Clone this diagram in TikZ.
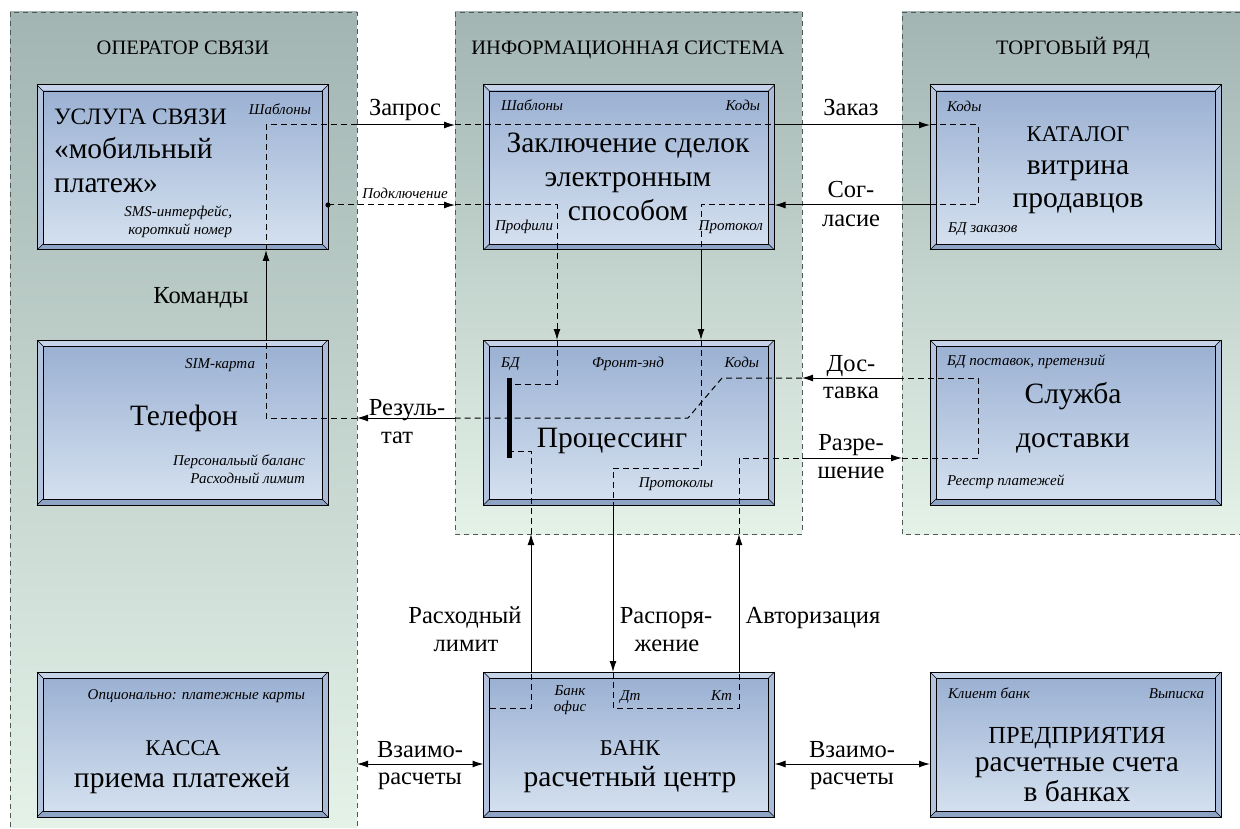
\documentclass[tikz,border=0pt]{standalone}
\usepackage{fontspec}
\setmainfont{Liberation Serif}
\usetikzlibrary{arrows.meta}
\definecolor{panTop}{HTML}{A2B5B3}
\definecolor{panBot}{HTML}{E4F2E8}
\definecolor{boxTop}{HTML}{9BB1D3}
\definecolor{boxBot}{HTML}{D4E0EF}
\definecolor{bevT}{HTML}{C6D3E8}
\definecolor{bevL}{HTML}{B4C4DE}
\definecolor{bevB}{HTML}{8EA4C7}
\definecolor{bevR}{HTML}{AABCD9}
\definecolor{panEdge}{HTML}{505858}
\newcommand\fbig{\fontsize{29.5}{34}\selectfont}
\newcommand\fcap{\fontsize{22.5}{34}\selectfont}
\newcommand\flab{\fontsize{24.5}{29}\selectfont}
\newcommand\ftit{\fontsize{20.5}{24}\selectfont}
\newcommand\fsm{\fontsize{15}{18}\selectfont\itshape}
\newcommand\bevelbox[1]{%
 \path[fill=bevT] (#1.north west) -- (#1.north east) -- ([xshift=-6pt,yshift=-6pt]#1.north east) -- ([xshift=6pt,yshift=-6pt]#1.north west) -- cycle;
 \path[fill=bevL] (#1.north west) -- ([xshift=6pt,yshift=-6pt]#1.north west) -- ([xshift=6pt,yshift=6pt]#1.south west) -- (#1.south west) -- cycle;
 \path[fill=bevB] (#1.south west) -- ([xshift=6pt,yshift=6pt]#1.south west) -- ([xshift=-6pt,yshift=6pt]#1.south east) -- (#1.south east) -- cycle;
 \path[fill=bevR] (#1.south east) -- ([xshift=-6pt,yshift=6pt]#1.south east) -- ([xshift=-6pt,yshift=-6pt]#1.north east) -- (#1.north east) -- cycle;
 \shade[top color=boxTop,bottom color=boxBot] ([xshift=6pt,yshift=6pt]#1.south west) rectangle ([xshift=-6pt,yshift=-6pt]#1.north east);
 \draw[line width=0.7pt] ([xshift=6pt,yshift=6pt]#1.south west) rectangle ([xshift=-6pt,yshift=-6pt]#1.north east);
 \draw[line width=0.5pt] (#1.north west) -- ++(6pt,-6pt) (#1.north east) -- ++(-6pt,-6pt) (#1.south west) -- ++(6pt,6pt) (#1.south east) -- ++(-6pt,6pt);
 \draw[line width=1pt] (#1.south west) rectangle (#1.north east);
}
\tikzset{
  bbox/.style={rectangle, inner sep=0pt, outer sep=0pt, minimum width=291pt, minimum height=165pt},
  lowbox/.style={bbox, minimum height=145pt},
  txt/.style={inner sep=0pt, outer sep=0pt},
  bigtxt/.style={txt, font=\fbig, anchor=base},
  captxt/.style={txt, font=\fcap, anchor=base},
  labtxt/.style={txt, font=\flab, anchor=base},
  tittxt/.style={txt, font=\ftit, anchor=base},
  smtxt/.style={txt, font=\fsm},
  dsh/.style={line width=1pt, dash pattern=on 6pt off 4pt},
  sol/.style={line width=1pt},
  arr/.style={-{Latex[length=11pt,width=7pt]}},
  arrboth/.style={{Latex[length=11pt,width=7pt]}-{Latex[length=11pt,width=7pt]}},
  panelline/.style={draw=panEdge, line width=0.8pt, dash pattern=on 5pt off 4pt}
}
\begin{document}
\begin{tikzpicture}[x=1pt,y=-1pt]
\useasboundingbox[fill=white] (0,0) rectangle (1240,829);
% panels
\shade[top color=panTop,bottom color=panBot] (10,12) rectangle (357,827);
\draw[panelline] (10,827) -- (10,12) -- (357,12) -- (357,827);
\shade[top color=panTop,bottom color=panBot] (455,12) rectangle (802,534);
\draw[panelline] (455,12) rectangle (802,534);
\shade[top color=panTop,bottom color=panBot] (902,12) rectangle (1240,534);
\draw[panelline] (1240,12) -- (902,12) -- (902,534) -- (1240,534);
\node[tittxt] (tOp) at (183,55) {ОПЕРАТОР СВЯЗИ};
\node[tittxt] (tIs) at (628,55) {ИНФОРМАЦИОННАЯ СИСТЕМА};
\node[tittxt] (tTr) at (1073,55) {ТОРГОВЫЙ РЯД};
% boxes
\node[bbox] (usl) at (182.5,167.5) {}; \bevelbox{usl}
\node[bbox] (zak) at (629,167.5) {}; \bevelbox{zak}
\node[bbox] (kat) at (1075.5,167.5) {}; \bevelbox{kat}
\node[bbox] (tel) at (182.5,422.5) {}; \bevelbox{tel}
\node[bbox] (pro) at (629,422.5) {}; \bevelbox{pro}
\node[bbox] (slu) at (1075.5,422.5) {}; \bevelbox{slu}
\node[lowbox] (kas) at (182.5,744.5) {}; \bevelbox{kas}
\node[lowbox] (bank) at (629,744.5) {}; \bevelbox{bank}
\node[lowbox] (pred) at (1075.5,744.5) {}; \bevelbox{pred}
\node[fill=black, inner sep=0pt, outer sep=0pt, minimum width=5pt, minimum height=80pt] (bar) at (509.5,418) {};
% helper coordinates
\coordinate (xCmd) at (266,0);
\coordinate (xPL) at (357,0);
\coordinate (xPM) at (455,0);
\coordinate (xPMr) at (802,0);
\coordinate (xPR) at (902,0);
\coordinate (yPMb) at (0,534);
\coordinate (xIn3) at (978,0);
\coordinate (xSog) at (701,0);
\coordinate (xRasp) at (613,0);
\coordinate (xAvt) at (739,0);
\coordinate (xLim) at (531,0);
\coordinate (xPod) at (557,0);
\coordinate (yZap) at (0,125);
\coordinate (ySog) at (0,205);
\coordinate (yRes) at (0,418);
\coordinate (yDos) at (0,378);
\coordinate (yRaz) at (0,458);
\coordinate (yPro) at (0,468);
\coordinate (yBank) at (0,708);
\coordinate (yVz) at (0,764);
\coordinate (yBar1) at (0,384);
\coordinate (yBar2) at (0,451);
\coordinate (bend1) at (722,378);
\coordinate (bend2) at (688,418);
\coordinate (bankIn) at ([xshift=6pt]bank.west);
% main loop
\draw[dsh] (xPL |- yRes) -- (xCmd |- yRes) -- (xCmd |- tel.north);
\draw[sol,arr] (xCmd |- tel.north) -- (xCmd |- usl.south);
\draw[dsh] (xCmd |- usl.south) -- (xCmd |- yZap) -- (xPL |- yZap);
\draw[sol,arr] (xPL |- yZap) -- (xPM |- yZap);
\draw[dsh] (xPM |- yZap) -- (zak.east |- yZap);
\draw[sol,arr] (zak.east |- yZap) -- (kat.west |- yZap);
\draw[dsh] (kat.west |- yZap) -- (xIn3 |- yZap) -- (xIn3 |- ySog) -- (kat.west |- ySog);
\draw[sol,arr] (kat.west |- ySog) -- (zak.east |- ySog);
\draw[dsh] (zak.east |- ySog) -- (xSog |- ySog) -- (xSog |- zak.south);
\draw[sol,arr] (xSog |- zak.south) -- (xSog |- pro.north);
\draw[dsh] (xSog |- pro.north) -- (xSog |- yPro) -- (xRasp |- yPro) -- (xRasp |- pro.south);
\draw[sol,arr] (xRasp |- pro.south) -- (xRasp |- bank.north);
\draw[dsh] (xRasp |- bank.north) -- (xRasp |- yBank) -- (xAvt |- yBank) -- (xAvt |- bank.north);
\draw[sol,arr] (xAvt |- bank.north) -- (xAvt |- yPMb);
\draw[dsh] (xAvt |- yPMb) -- (xAvt |- yRaz) -- (xPMr |- yRaz);
\draw[sol,arr] (xPMr |- yRaz) -- (xPR |- yRaz);
\draw[dsh] (xPR |- yRaz) -- (xIn3 |- yRaz) -- (xIn3 |- yDos) -- (xPR |- yDos);
\draw[sol,arr] (xPR |- yDos) -- (xPMr |- yDos);
\draw[dsh] (xPMr |- yDos) -- (bend1) -- (bend2) -- (xPM |- yRes);
\draw[sol,arr] (xPM |- yRes) -- (xPL |- yRes);
% Подключение
\fill (usl.east |- ySog) circle[radius=2.6pt];
\draw[dsh,arr] (usl.east |- ySog) -- (xPM |- ySog);
\draw[dsh,arr] (xPM |- ySog) -- (xPod |- ySog) -- (xPod |- pro.north);
\draw[dsh] (xPod |- pro.north) -- (xPod |- yBar1) -- (bar.east |- yBar1);
% Расходный лимит
\draw[dsh] (bankIn |- yBank) -- (xLim |- yBank) -- (xLim |- bank.north);
\draw[sol,arr] (xLim |- bank.north) -- (xLim |- yPMb);
\draw[dsh] (xLim |- yPMb) -- (xLim |- yBar2) -- (bar.east |- yBar2);
% Взаиморасчеты
\draw[sol,arrboth] (xPL |- yVz) -- (bank.west |- yVz);
\draw[sol,arrboth] (bank.east |- yVz) -- (pred.west |- yVz);
% connector labels
\node[labtxt] (lCmd) at (201,303) {Команды};
\node[labtxt] (lZap) at (405,116) {Запрос};
\node[smtxt,anchor=base] (lPod) at (405,199) {Подключение};
\node[labtxt] (lZak) at (851,116) {Заказ};
\node[labtxt] (lSog1) at (851,198) {Сог-};
\node[labtxt] (lSog2) at (851,227) {ласие};
\node[labtxt] (lRes1) at (407,415) {Резуль-};
\node[labtxt] (lRes2) at (397,443) {тат};
\node[labtxt] (lDos1) at (851,371) {Дос-};
\node[labtxt] (lDos2) at (851,398) {тавка};
\node[labtxt] (lRaz1) at (851,450) {Разре-};
\node[labtxt] (lRaz2) at (851,478) {шение};
\node[labtxt] (lLim1) at (465,623) {Расходный};
\node[labtxt] (lLim2) at (466,651) {лимит};
\node[labtxt] (lRsp1) at (666,623) {Распоря-};
\node[labtxt] (lRsp2) at (667,651) {жение};
\node[labtxt] (lAvt) at (813,623) {Авторизация};
\node[labtxt] (lVzL1) at (420,757) {Взаимо-};
\node[labtxt] (lVzL2) at (420,784) {расчеты};
\node[labtxt] (lVzR1) at (852,757) {Взаимо-};
\node[labtxt] (lVzR2) at (852,784) {расчеты};
% box 1
\node[captxt,anchor=base west,font=\fontsize{23.5}{30}\selectfont] (u1) at (54,125) {УСЛУГА СВЯЗИ};
\node[bigtxt,anchor=base west] (u2) at (54,159) {«мобильный};
\node[bigtxt,anchor=base west] (u3) at (54,193) {платеж»};
\node[smtxt,anchor=base east] (u4) at (311,115) {Шаблоны};
\node[smtxt,anchor=base east] (u5) at (232,217) {SMS-интерфейс,};
\node[smtxt,anchor=base east] (u6) at (232,235) {короткий номер};
% box 2
\node[smtxt,anchor=base west] (z1) at (501,111) {Шаблоны};
\node[smtxt,anchor=base east] (z2) at (760,111) {Коды};
\node[bigtxt] (z3) at (628,153) {Заключение сделок};
\node[bigtxt] (z4) at (628,187) {электронным};
\node[bigtxt] (z5) at (628,221) {способом};
\node[smtxt,anchor=base west] (z6) at (495,231) {Профили};
\node[smtxt,anchor=base east] (z7) at (763,231) {Протокол};
% box 3
\node[smtxt,anchor=base west] (k1) at (947,112) {Коды};
\node[captxt] (k2) at (1078,142) {КАТАЛОГ};
\node[bigtxt] (k3) at (1078,175) {витрина};
\node[bigtxt] (k4) at (1078,208) {продавцов};
\node[smtxt,anchor=base west] (k5) at (948,233) {БД заказов};
% box 4
\node[smtxt,anchor=base east] (p1) at (255,368) {SIM-карта};
\node[bigtxt] (p2) at (184,425) {Телефон};
\node[smtxt,anchor=base east] (p3) at (305,465) {Персональый баланс};
\node[smtxt,anchor=base east] (p4) at (305,483) {Расходный лимит};
% box 5
\node[smtxt,anchor=base west] (r1) at (501,367) {БД};
\node[smtxt,anchor=base] (r2) at (628,367) {Фронт-энд};
\node[smtxt,anchor=base east] (r3) at (759,367) {Коды};
\node[bigtxt] (r4) at (612,447) {Процессинг};
\node[smtxt,anchor=base] (r5) at (676,487) {Протоколы};
% box 6
\node[smtxt,anchor=base west] (s1) at (947,365) {БД поставок, претензий};
\node[bigtxt] (s2) at (1073,403) {Служба};
\node[bigtxt] (s3) at (1073,447) {доставки};
\node[smtxt,anchor=base west] (s4) at (947,485) {Реестр платежей};
% box 7
\node[smtxt,anchor=base east] (c1) at (305,699) {Опционально: платежные карты};
\node[captxt] (c2) at (183,755) {КАССА};
\node[bigtxt] (c3) at (182,787) {приема платежей};
% box 8
\node[smtxt,anchor=base] (b1) at (570,695) {Банк};
\node[smtxt,anchor=base] (b2) at (570,711) {офис};
\node[smtxt,anchor=base west] (b3) at (620,700) {Дт};
\node[smtxt,anchor=base east] (b4) at (732,700) {Кт};
\node[captxt] (b5) at (630,755) {БАНК};
\node[bigtxt] (b6) at (630,786) {расчетный центр};
% box 9
\node[smtxt,anchor=base west] (e1) at (948,698) {Клиент банк};
\node[smtxt,anchor=base east] (e2) at (1204,698) {Выписка};
\node[captxt,font=\fontsize{24.5}{30}\selectfont] (e3) at (1077,743) {ПРЕДПРИЯТИЯ};
\node[bigtxt] (e4) at (1077,771) {расчетные счета};
\node[bigtxt] (e5) at (1077,801) {в банках};
\end{tikzpicture}
\end{document}
